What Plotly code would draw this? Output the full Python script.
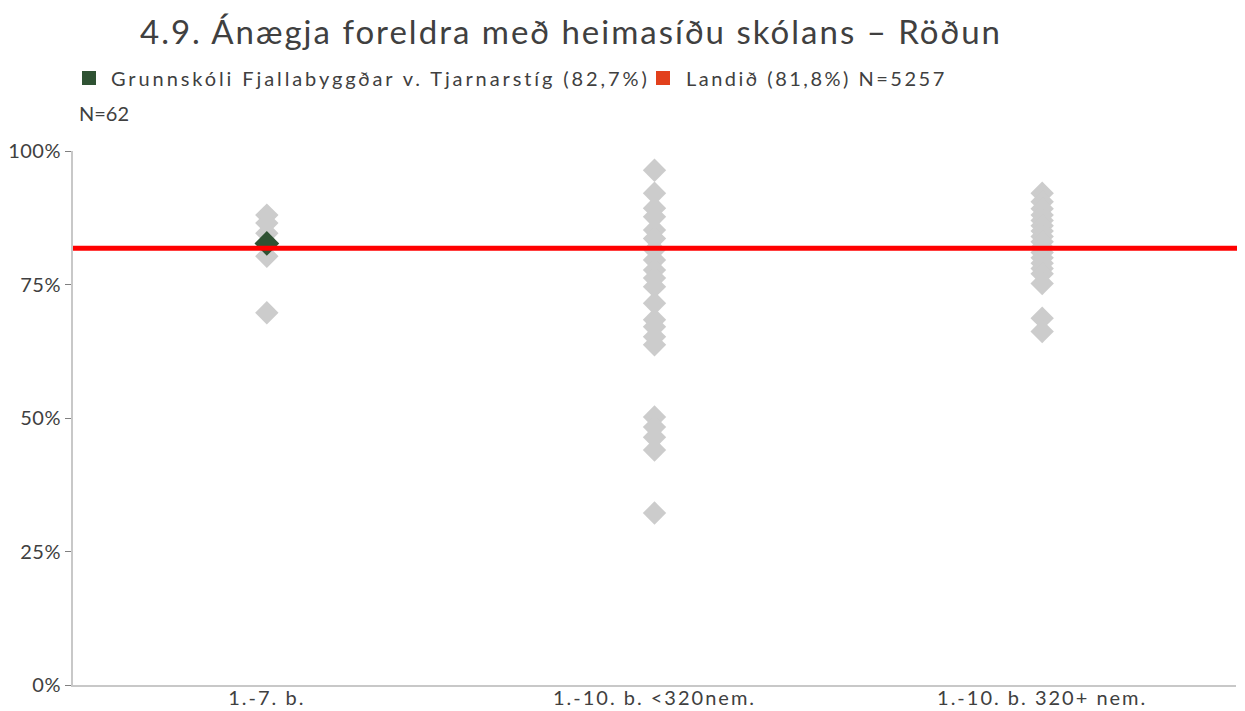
import plotly.graph_objects as go

categories = ["1.-7. b.", "1.-10. b. <320nem.", "1.-10. b. 320+ nem."]

schools_17 = [0.880, 0.865, 0.846, 0.827, 0.803, 0.697]
schools_110_small = [0.964, 0.921, 0.893, 0.877, 0.852, 0.836, 0.815, 0.796, 0.777,
                     0.762, 0.746, 0.715, 0.684, 0.671, 0.652, 0.637,
                     0.502, 0.483, 0.464, 0.440, 0.322]
schools_110_large = [0.921, 0.905, 0.892, 0.880, 0.870, 0.860, 0.850, 0.840, 0.830,
                     0.820, 0.810, 0.800, 0.790, 0.780, 0.770, 0.752, 0.687, 0.662]

school_category = "1.-7. b."
school_value = 0.827
school_name = "Grunnskóli Fjallabyggðar v. Tjarnarstíg (82,7%)"
school_n = "N=62"
national_value = 0.818
national_name = "Landið (81,8%) N=5257"

title_text = "4.9. Ánægja foreldra með heimasíðu skólans – Röðun"
y_ticks = [0, 0.25, 0.5, 0.75, 1.0]
y_ticklabels = ["0%", "25%", "50%", "75%", "100%"]

FONT = "Lato, 'Open Sans', sans-serif"
TXT = "#404040"
GREEN = "#2F5233"
ORANGE = "#E2401C"
W, H = 1245, 711
OFF = 8  # page body offset
ML, MR, MT, MB = 65, 17, 143, 34
PW, PH = W - ML - MR, H - MT - MB


def px(x):
    return (x - OFF - ML) / PW


def py(y):
    return (H - MB - (y - OFF)) / PH


def spaced(s, ls):
    return "<span style='letter-spacing:%spx'>%s</span>" % (ls, s)


fig = go.Figure()

gx, gy = [], []
for cat, vals in zip(categories, [schools_17, schools_110_small, schools_110_large]):
    gx += [cat] * len(vals)
    gy += vals

fig.add_trace(go.Scatter(
    x=gx, y=gy, mode="markers",
    marker=dict(symbol="diamond", size=18, color="#CCCCCC"),
    showlegend=False, hoverinfo="y"))

fig.add_trace(go.Scatter(
    x=[school_category], y=[school_value], mode="markers",
    marker=dict(symbol="diamond", size=19, color=GREEN),
    showlegend=False))

fig.add_shape(type="line", xref="paper", x0=0, x1=1.004, yref="y",
              y0=national_value, y1=national_value,
              line=dict(color="#FF0000", width=5))

# legend swatches
for x0, col in [(82, GREEN), (656, ORANGE)]:
    fig.add_shape(type="rect", xref="paper", yref="paper",
                  x0=px(x0), x1=px(x0 + 14), y0=py(85), y1=py(71),
                  fillcolor=col, line=dict(width=0))

fig.update_layout(
    width=W, height=H,
    margin=dict(l=ML, r=MR, t=MT, b=MB, autoexpand=False),
    paper_bgcolor="white", plot_bgcolor="white",
    font=dict(family=FONT, color=TXT, size=20),
    title=dict(text=spaced(title_text, 2), x=(140 - OFF) / W, xanchor="left",
               y=1 - (32 - OFF) / H, yanchor="middle",
               font=dict(size=33, color=TXT, family=FONT)),
    xaxis=dict(type="category", categoryorder="array", categoryarray=categories,
               tickvals=categories, ticktext=[spaced(c, 2) for c in categories],
               range=[-0.5, 2.5], showline=True, linecolor="#C8C8C8", linewidth=2,
               showgrid=False, ticks="", automargin=False, ticklabelstandoff=-6,
               tickfont=dict(size=20, color=TXT)),
    yaxis=dict(range=[0, 1], tickvals=y_ticks,
               ticktext=[spaced(t, 0.5) for t in y_ticklabels],
               showline=True, linecolor="#C8C8C8", linewidth=2, showgrid=False,
               zeroline=False, ticks="outside", ticklen=6, tickcolor="#808080",
               automargin=False, tickfont=dict(size=20, color=TXT)),
    showlegend=False,
)

fig.add_annotation(xref="paper", yref="paper", x=px(109), y=py(78),
                   xanchor="left", yanchor="middle", showarrow=False,
                   text=spaced(school_name, 2.9),
                   font=dict(size=20, color=TXT))
fig.add_annotation(xref="paper", yref="paper", x=px(684), y=py(78),
                   xanchor="left", yanchor="middle", showarrow=False,
                   text=spaced(national_name, 2.5),
                   font=dict(size=20, color=TXT))
fig.add_annotation(xref="paper", yref="paper", x=px(77), y=py(113),
                   xanchor="left", yanchor="middle", showarrow=False,
                   text=school_n, font=dict(size=20, color=TXT))

fig.write_html("out.html")
